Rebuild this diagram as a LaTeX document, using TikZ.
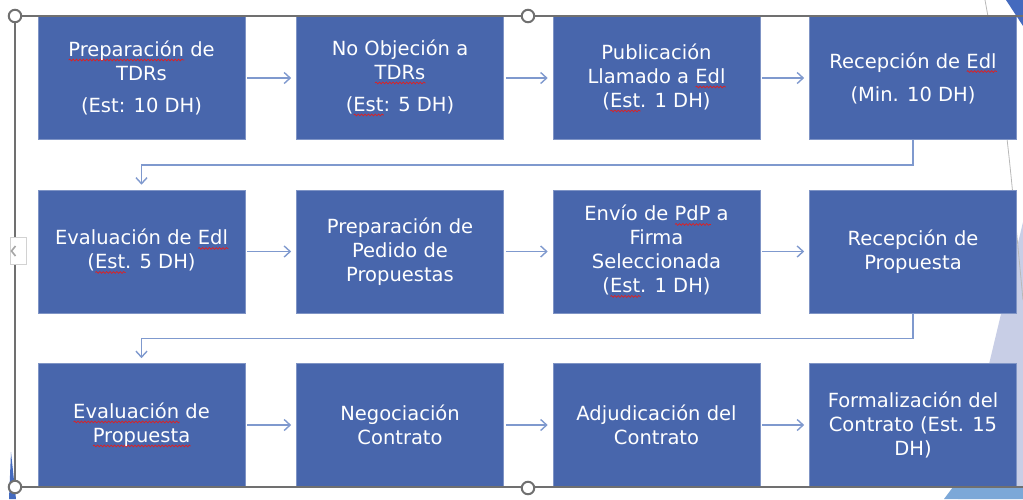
\documentclass[tikz,border=0pt]{standalone}
\usepackage{fontspec}
\setmainfont{DejaVu Sans}
\usetikzlibrary{arrows.meta,positioning,calc,decorations.pathmorphing}
\definecolor{boxblue}{RGB}{72,102,172}
\definecolor{flowblue}{RGB}{127,153,206}
\definecolor{framegray}{RGB}{112,112,112}
\definecolor{spellred}{RGB}{224,32,32}
\definecolor{lavender}{RGB}{200,206,230}
\definecolor{skyblue}{RGB}{124,168,216}
\definecolor{slideblue}{RGB}{68,106,190}
% red wavy mark of the spell checker
\newsavebox\spellbox
\newcommand\spell[1]{\leavevmode\sbox\spellbox{#1}%
  \rlap{\tikz[baseline=0pt,x=1pt,y=1pt]\draw[spellred,line width=0.7pt,decorate,
    decoration={snake,amplitude=0.9pt,segment length=3.4pt}]
    (0pt,-3.5pt) -- (\the\wd\spellbox,-3.5pt);}\usebox\spellbox}
\tikzset{
  stepbox/.style={fill=boxblue,draw=boxblue!70!white,line width=0.6pt,
    minimum width=207pt,minimum height=123pt,inner sep=0pt,align=center,
    text=white,font=\fontsize{19.5}{24}\selectfont},
  flow/.style={line width=1.4pt,flowblue,-{Straight Barb[length=6pt,width=11pt]}},
  frame/.style={line width=1.5pt,framegray},
  handle/.style={circle,draw=framegray,fill=white,line width=2pt,
    minimum size=12.5pt,inner sep=0pt}
}
\begin{document}
\begin{tikzpicture}[x=1pt,y=-1pt]
  \useasboundingbox (0,0) rectangle (1023,499);
  % slide background
  \fill[lavender] (1023,222) -- (990,360) -- (958,499) -- (1023,499) -- cycle;
  \fill[skyblue] (944,499) -- (953,487) -- (1023,487) -- (1023,499) -- cycle;
  \fill[slideblue] (1006,0) -- (1023,0) -- (1023,26) -- cycle;
  \fill[slideblue] (9,499) -- (11,452) -- (16,499) -- cycle;
  \draw[framegray!50,line width=0.8pt] (985,0) .. controls (1005,110) .. (1023,300);
  % row 1
  \node[stepbox] (prep) at (141.5,78) {\spell{Preparación} de\\TDRs\\[8pt](Est: 10 DH)};
  \node[stepbox] (noobj) at (400,78) {No Objeción a\\\spell{TDRs}\\[8pt](\spell{Est}: 5 DH)};
  \node[stepbox] (publ) at (656.5,78) {Publicación\\Llamado a \spell{Edl}\\(\spell{Est}. 1 DH)};
  \node[stepbox] (recedl) at (913,78) {Recepción de \spell{Edl}\\[9pt](Min. 10 DH)};
  % row 2
  \node[stepbox] (evaledl) at (141.5,251.5) {Evaluación de \spell{Edl}\\(\spell{Est}. 5 DH)};
  \node[stepbox] (pedido) at (400,251.5) {Preparación de\\Pedido de\\Propuestas};
  \node[stepbox] (envio) at (656.5,251.5) {Envío de \spell{PdP} a\\Firma\\Seleccionada\\(\spell{Est}. 1 DH)};
  \node[stepbox] (recprop) at (913,251.5) {Recepción de\\Propuesta};
  % row 3
  \node[stepbox] (evalprop) at (141.5,425) {\spell{Evaluación} de\\\spell{Propuesta}};
  \node[stepbox] (negoc) at (400,425) {Negociación\\Contrato};
  \node[stepbox] (adjud) at (656.5,425) {Adjudicación del\\Contrato};
  \node[stepbox] (formal) at (913,425) {Formalización del\\Contrato (Est. 15\\DH)};
  % arrows
  \foreach \a/\b in {prep/noobj,noobj/publ,publ/recedl,evaledl/pedido,pedido/envio,
    envio/recprop,evalprop/negoc,negoc/adjud,adjud/formal}
    \draw[flow,shorten <=2pt,shorten >=5pt] (\a) -- (\b);
  \draw[flow,shorten >=5pt] (recedl.south) -- ++(0,25) -| (evaledl.north);
  \draw[flow,shorten >=5pt] (recprop.south) -- ++(0,25) -| (evalprop.north);
  % selection frame
  \draw[frame] (1023,16) -- (15,16) -- (15,487) -- (1023,487);
  \node[handle] (hnw) at (15,16) {};
  \node[handle] (hn) at (528,16) {};
  \node[handle] (hsw) at (15,487) {};
  \node[handle] (hs) at (528,488) {};
  \node[draw=gray!35,fill=white,minimum width=16pt,minimum height=27pt,inner sep=0pt] (hw) at (18,251) {};
  \draw[gray!70,line width=1.6pt] ([xshift=-2.5pt,yshift=5pt]hw.center)
    -- ([xshift=-6.5pt]hw.center) -- ([xshift=-2.5pt,yshift=-5pt]hw.center);
\end{tikzpicture}
\end{document}
